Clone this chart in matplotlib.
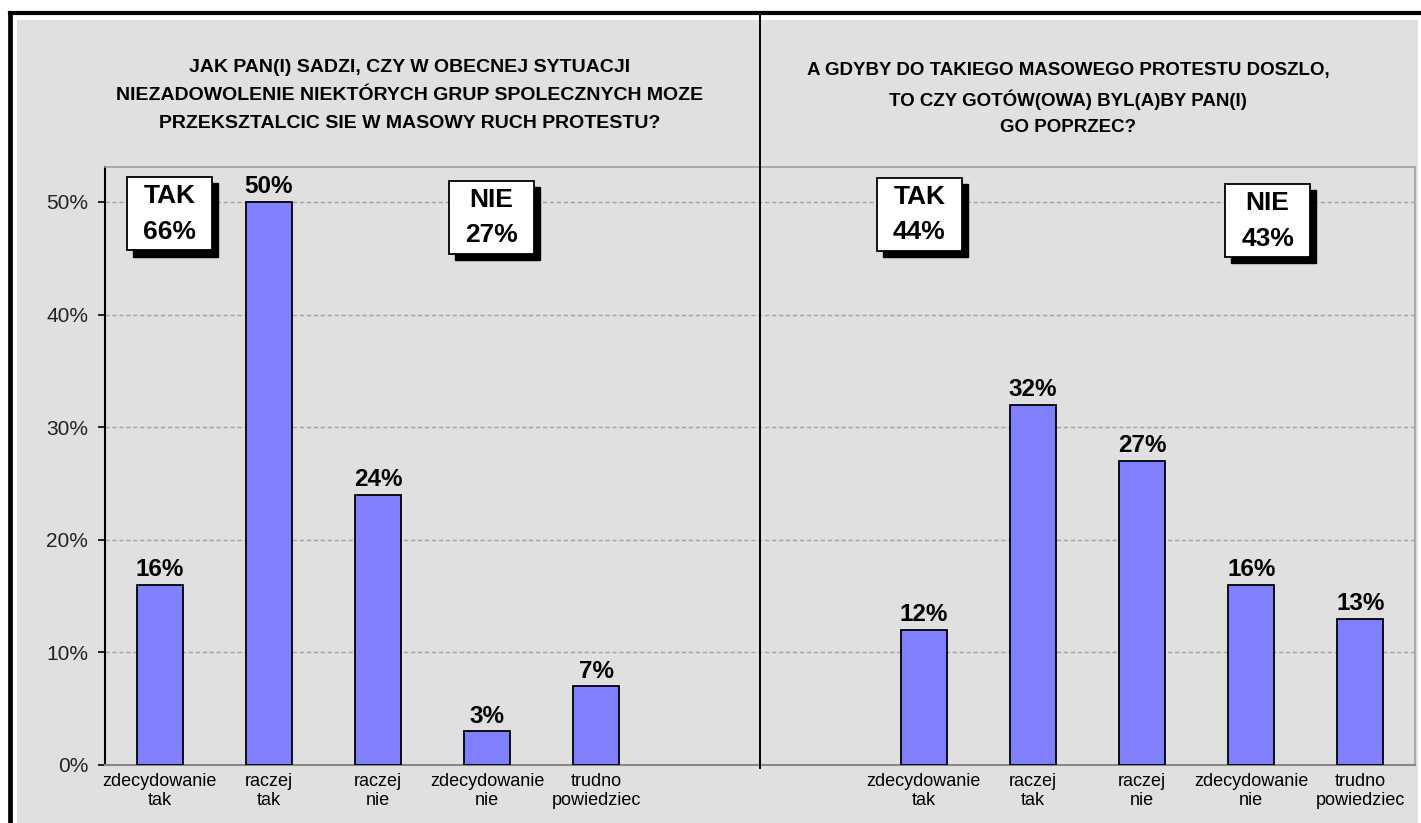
import matplotlib
matplotlib.use('Agg')
import matplotlib.pyplot as plt
from matplotlib.patches import Rectangle
from matplotlib.lines import Line2D
from matplotlib import font_manager as fm

plt.rcParams['font.family'] = ['Liberation Sans', 'DejaVu Sans']

# data
categories = ['zdecydowanie\ntak', 'raczej\ntak', 'raczej\nnie', 'zdecydowanie\nnie', 'trudno\npowiedziec']
left_vals = [16, 50, 24, 3, 7]
right_vals = [12, 32, 27, 16, 13]
left_title = ['JAK PAN(I) SADZI, CZY W OBECNEJ SYTUACJI',
              'NIEZADOWOLENIE NIEKTÓRYCH GRUP SPOLECZNYCH MOZE',
              'PRZEKSZTALCIC SIE W MASOWY RUCH PROTESTU?']
right_title = ['A GDYBY DO TAKIEGO MASOWEGO PROTESTU DOSZLO,',
               'TO CZY GOTÓW(OWA) BYL(A)BY PAN(I)',
               'GO POPRZEC?']
box_words = ['TAK', 'NIE', 'TAK', 'NIE']
box_vals = [66, 27, 44, 43]
yticks = [0, 10, 20, 30, 40, 50]

left_x = [0, 1, 2, 3, 4]
right_x = [7, 8, 9, 10, 11]
# summary box centres (data coords)
box_cx = [0.09, 3.04, 6.96, 10.15]
box_cy = [48.95, 48.65, 48.9, 48.35]

try:
    fm.findfont('Liberation Sans Narrow', fallback_to_default=False)
    narrow = 'Liberation Sans Narrow'
    rsize = 16
except Exception:
    narrow = 'Liberation Sans'
    rsize = 13.5

W, H = 1421, 823
GRAY = '#e0e0e0'
fig = plt.figure(figsize=(W / 100, H / 100), dpi=100)
fig.patch.set_facecolor('white')

# gray panel + black frame
fig.add_artist(Rectangle((17 / W, 0), (1418 - 17) / W, 1 - 20 / H, transform=fig.transFigure,
                         facecolor=GRAY, edgecolor='none', zorder=0))
fig.add_artist(Line2D([9.5 / W, 9.5 / W], [0, 1 - 12.5 / H], transform=fig.transFigure,
                      color='black', lw=3.4, solid_capstyle='projecting'))
fig.add_artist(Line2D([9.5 / W, 1], [1 - 12.5 / H, 1 - 12.5 / H], transform=fig.transFigure,
                      color='black', lw=3.0, solid_capstyle='projecting'))

ax = fig.add_axes([105 / W, 58 / H, 1310 / W, 598 / H])
ax.set_facecolor(GRAY)
ax.set_xlim(-0.5, 11.5)
ax.set_ylim(0, 53.1)

ax.bar(left_x, left_vals, width=0.42, color='#8080ff', edgecolor='black', linewidth=1.3, zorder=3)
ax.bar(right_x, right_vals, width=0.42, color='#8080ff', edgecolor='black', linewidth=1.3, zorder=3)

for x, v in zip(left_x + right_x, left_vals + right_vals):
    ax.annotate(f'{v}%', (x, v), xytext=(0, 2.5), textcoords='offset points',
                ha='center', va='bottom', fontsize=17.5, fontweight='bold', zorder=4)

ax.set_yticks(yticks)
ax.set_yticklabels([f'{t}%' for t in yticks], fontsize=15, color='#222222')
ax.set_xticks(left_x + right_x)
ax.set_xticklabels(categories + categories, fontsize=13, linespacing=1.15)
ax.tick_params(axis='x', length=0, pad=6)
ax.tick_params(axis='y', direction='out', length=5, width=1.2, pad=7)

ax.yaxis.grid(True, linestyle=(0, (3, 2)), color='#a0a0a0', linewidth=1)
ax.set_axisbelow(True)
ax.spines['left'].set_color('black')
ax.spines['left'].set_linewidth(1.5)
ax.spines['bottom'].set_color('#888888')
ax.spines['bottom'].set_linewidth(1.5)
for s in ['top', 'right']:
    ax.spines[s].set_color('#a0a0a0')
    ax.spines[s].set_linewidth(1.2)

# divider between the two questions
ax.axvline(5.5, ymin=-0.005, ymax=1.256, color='black', lw=1.4, clip_on=False, zorder=5)

# summary boxes with drop shadow
bw, bh = 0.78, 6.5
dx, dy = 0.055, 0.55
for cx, cy, word, val in zip(box_cx, box_cy, box_words, box_vals):
    ax.add_patch(Rectangle((cx - bw / 2 + dx, cy - bh / 2 - dy), bw, bh,
                           facecolor='black', edgecolor='black', zorder=6))
    ax.add_patch(Rectangle((cx - bw / 2, cy - bh / 2), bw, bh,
                           facecolor='white', edgecolor='black', lw=1.3, zorder=7))
    ax.text(cx, cy + 1.55, word, ha='center', va='center', fontsize=19, fontweight='bold', zorder=8)
    ax.text(cx, cy - 1.6, f'{val}%', ha='center', va='center', fontsize=19, fontweight='bold', zorder=8)

# titles
for i, line in enumerate(left_title):
    fig.text(410 / W, 1 - (68 + 28 * i) / H, line, ha='center', va='center',
             fontsize=14, fontweight='bold')
for i, line in enumerate(right_title):
    fig.text(1068 / W, 1 - (71 + 28.5 * i) / H, line, ha='center', va='center',
             fontsize=rsize, fontweight='bold', family=[narrow, 'DejaVu Sans'])

fig.savefig('out.png', dpi=100, facecolor='white')
